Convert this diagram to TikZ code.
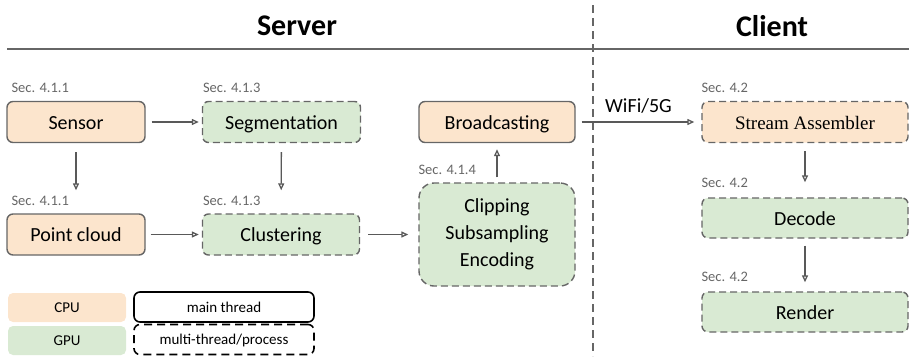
\documentclass[tikz,border=0pt]{standalone}
\usepackage{fontspec}
\setmainfont{Carlito}
\newfontfamily\timesfont{Liberation Serif}
\usetikzlibrary{arrows.meta, positioning}

\definecolor{cpufill}{HTML}{FCE5CD}
\definecolor{gpufill}{HTML}{D9EAD3}
\definecolor{boxline}{HTML}{666666}
\definecolor{arrowline}{HTML}{595959}

\begin{document}
\begin{tikzpicture}[x=1pt, y=-1pt,
    stage/.style = {draw=boxline, line width=1.4pt, rounded corners=6pt, minimum height=41pt,
                    font=\fontsize{20}{24}\selectfont},
    box/.style = {stage, text height=18pt, text depth=4pt},
    cpu/.style = {box, fill=cpufill},
    gpu/.style = {box, fill=gpufill},
    multi/.style = {dash pattern=on 7pt off 4pt},
    sec/.style = {text=boxline, font=\fontsize{14.5}{16}\selectfont, inner sep=0pt, anchor=base west},
    flow/.style = {draw=arrowline, line width=1.3pt, -{Triangle[open, length=7pt, width=6pt]}},
    key/.style = {rounded corners=5pt, minimum width=118pt, minimum height=29pt,
                  text height=13pt, text depth=3pt, font=\fontsize{15}{18}\selectfont},
    thread/.style = {draw=black, line width=1.6pt, rounded corners=6pt, minimum width=180pt, minimum height=30pt,
                     text height=13pt, text depth=3pt, font=\fontsize{15}{18}\selectfont},
    title/.style = {font=\bfseries\fontsize{30}{36}\selectfont}]
    \useasboundingbox (0,0) rectangle (909,356);

    % headings and the two halves
    \node[title] (server) at (297,26) {Server};
    \node[title] (client) at (772,26) {Client};
    \coordinate (ruleL) at (7,49);
    \coordinate (ruleR) at (909,49);
    \coordinate (divtop) at (593,5);
    \coordinate (divbot) at (593,356);
    \draw[boxline, line width=1.4pt] (ruleL) -- (ruleR);
    \draw[boxline, line width=1.3pt, dash pattern=on 8pt off 5pt] (divtop) -- (divbot);

    % server side
    \node[cpu, minimum width=138pt] (sensor) at (76,122) {Sensor};
    \node[gpu, multi, minimum width=158pt] (seg) at (281.5,122) {Segmentation};
    \node[cpu, minimum width=156pt] (broad) at (497,122) {Broadcasting};
    \node[cpu, minimum width=138pt] (pc) at (76,234.5) {Point cloud};
    \node[gpu, multi, minimum width=157pt] (clust) at (281,234.5) {Clustering};
    \node[stage, multi, fill=gpufill, minimum width=156pt, minimum height=103pt, rounded corners=15pt,
          align=center, font=\fontsize{20}{27}\selectfont] (clip) at (497,234.5)
          {Clipping\\Subsampling\\Encoding};

    % client side
    \node[cpu, multi, minimum width=206pt, font=\timesfont\fontsize{19}{24}\selectfont] (stream) at (805,122) {Stream Assembler};
    \node[gpu, multi, minimum width=206pt, minimum height=40pt] (decode) at (805,218) {Decode};
    \node[gpu, multi, minimum width=206pt, minimum height=40pt] (render) at (805,312) {Render};

    % section numbers
    \node[sec] (secsensor) at ([xshift=5pt, yshift=8pt]sensor.north west) {Sec. 4.1.1};
    \node[sec] (secseg) at ([xshift=1pt, yshift=8pt]seg.north west) {Sec. 4.1.3};
    \node[sec] (secpc) at ([xshift=5pt, yshift=8pt]pc.north west) {Sec. 4.1.1};
    \node[sec] (secclust) at ([xshift=1pt, yshift=8pt]clust.north west) {Sec. 4.1.3};
    \node[sec] (secclip) at ([xshift=0pt, yshift=8pt]clip.north west) {Sec. 4.1.4};
    \node[sec] (secstream) at ([xshift=0pt, yshift=8pt]stream.north west) {Sec. 4.2};
    \node[sec] (secdecode) at ([xshift=0pt, yshift=10pt]decode.north west) {Sec. 4.2};
    \node[sec] (secrender) at ([xshift=0pt, yshift=10pt]render.north west) {Sec. 4.2};

    % data flow
    \path[flow, shorten <=6pt, shorten >=3pt] (sensor) edge (seg);
    \path[flow, shorten <=5pt, shorten >=3pt] (pc) edge (clust);
    \path[flow, shorten <=8pt, shorten >=10pt] (clust) edge (clip);
    \path[flow, shorten <=9pt, shorten >=23pt] (sensor) edge (pc);
    \path[flow, shorten <=9pt, shorten >=23pt] (seg) edge (clust);
    \path[flow, shorten <=5pt, shorten >=6pt] (clip) edge (broad);
    \path[flow, shorten <=6pt, shorten >=7pt] (broad) edge node[above=5pt, name=wifi, font=\fontsize{20}{24}\selectfont] {WiFi/5G} (stream);
    \path[flow, shorten <=8pt, shorten >=15pt] (stream) edge (decode);
    \path[flow, shorten <=7pt, shorten >=9pt] (decode) edge (render);

    % legend
    \node[key, fill=cpufill] (cpukey) at (67,307.5) {CPU};
    \node[key, fill=gpufill] (gpukey) at (67,340.5) {GPU};
    \node[thread] (mainkey) at (224,307) {main thread};
    \node[thread, dash pattern=on 8pt off 5pt] (multikey) at (224,339.5) {multi-thread/process};
\end{tikzpicture}
\end{document}
